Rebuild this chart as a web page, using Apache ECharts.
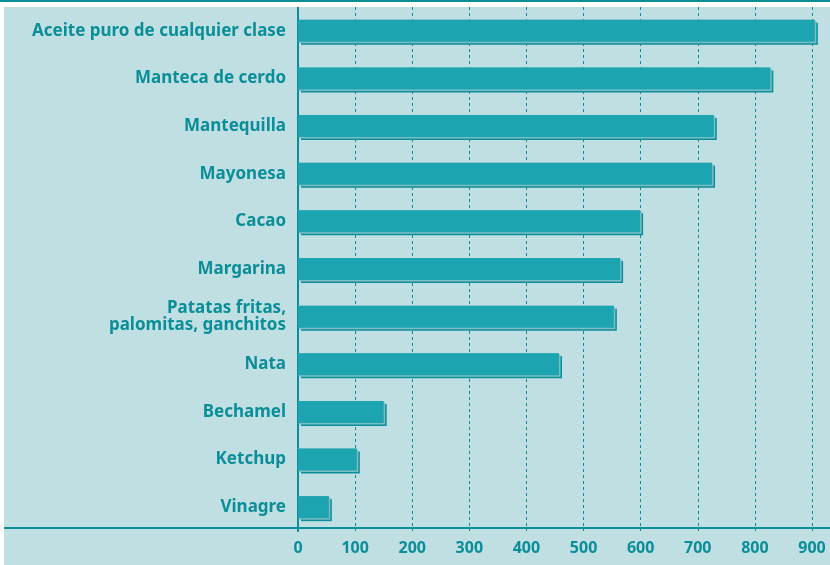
<!DOCTYPE html>
<html><head><meta charset="utf-8">
<script src="https://cdn.jsdelivr.net/npm/echarts@6/dist/echarts.min.js"></script>
<style>
html,body{margin:0;padding:0;background:#fff;width:830px;height:565px;overflow:hidden}
#topline{position:absolute;left:0;top:0;width:830px;height:2px;background:#0a8e98}
#chart{position:absolute;left:4px;top:7px;width:826px;height:558px;background:#c0dfe3}
</style></head>
<body>
<div id="topline"></div>
<div id="chart"></div>
<script>
const categories = [
  'Aceite puro de cualquier clase',
  'Manteca de cerdo',
  'Mantequilla',
  'Mayonesa',
  'Cacao',
  'Margarina',
  'Patatas fritas,\npalomitas, ganchitos',
  'Nata',
  'Bechamel',
  'Ketchup',
  'Vinagre'
];
const values = [905, 827, 728, 725, 599, 564, 553, 457, 150, 103, 54];
const tickMin = 0, tickMax = 900, tickStep = 100;

const teal = '#0a8e98';
const chart = echarts.init(document.getElementById('chart'));
chart.setOption({
  animation: false,
  grid: [
    {left: 294, right: 18, top: -2, bottom: 34},
    {left: 0, right: 0, top: 0, bottom: 37}
  ],
  xAxis: [
    {
      type: 'value', gridIndex: 0, min: tickMin, max: tickMax, interval: tickStep,
      axisLine: {show: false},
      axisTick: {show: false},
      axisLabel: {color: teal, fontFamily: 'Noto Sans', fontWeight: 'bold', fontSize: 16, margin: 9},
      splitLine: {show: true, lineStyle: {color: teal, type: [3, 3], width: 1}}
    },
    {
      type: 'value', gridIndex: 1, min: 0, max: 1,
      axisLine: {show: true, lineStyle: {color: teal, width: 2}},
      axisTick: {show: false}, axisLabel: {show: false}, splitLine: {show: false}
    }
  ],
  yAxis: [
    {
      type: 'category', gridIndex: 0, data: categories, inverse: true,
      axisLine: {show: true, lineStyle: {color: teal, width: 2}},
      axisTick: {show: false},
      axisLabel: {color: teal, fontFamily: 'Noto Sans', fontWeight: 'bold', fontSize: 17, margin: 12, lineHeight: 17, align: 'right'}
    },
    {type: 'category', gridIndex: 1, show: false, data: ['a']}
  ],
  series: [
    {
      type: 'bar', data: values, barWidth: 22, silent: true, z: 2, clip: false,
      itemStyle: {color: '#7fbcc4', shadowColor: teal, shadowOffsetX: 3, shadowOffsetY: 3, shadowBlur: 0}
    },
    {
      type: 'bar', data: values, barWidth: 22, barGap: '-100%', z: 3, clip: false,
      itemStyle: {color: '#1ca4b0', shadowColor: '#7fbcc4', shadowOffsetX: 1.5, shadowOffsetY: 1.5, shadowBlur: 0}
    }
  ]
});
</script>
</body></html>
